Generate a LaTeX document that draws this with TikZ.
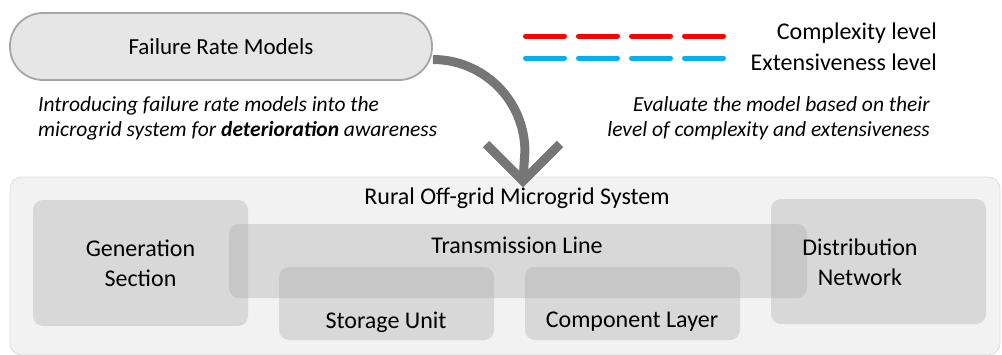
\documentclass[tikz,border=0pt]{standalone}
\usepackage{fontspec}
\setmainfont{Carlito}
\usetikzlibrary{arrows.meta}
\definecolor{pillfill}{HTML}{E6E6E6}
\definecolor{pillline}{HTML}{A6A6A6}
\definecolor{panelfill}{HTML}{F2F2F2}
\definecolor{panelline}{HTML}{DEDEDE}
\definecolor{blockfill}{HTML}{A6A6A6}
\definecolor{arrowgray}{HTML}{767676}
\definecolor{legred}{HTML}{FF0000}
\definecolor{legblue}{HTML}{00B0F0}
\tikzset{
  pill/.style={draw=pillline, line width=1.8pt, fill=pillfill, rounded corners=33pt,
    minimum width=422pt, minimum height=67pt, inner sep=0pt, font=\fontsize{23}{27}\selectfont},
  panel/.style={draw=panelline, line width=0.8pt, fill=panelfill, rounded corners=12pt,
    minimum width=990pt, minimum height=178pt, inner sep=0pt},
  block/.style={fill=blockfill, fill opacity=0.33, rounded corners=10pt, inner sep=0pt},
  blocktext/.style={font=\fontsize{24}{30}\selectfont, align=center, inner sep=0pt},
  note/.style={font=\fontsize{21.5}{25}\selectfont\itshape, inner sep=0pt},
  legtext/.style={font=\fontsize{24}{28}\selectfont, inner sep=0pt, anchor=east},
  legline/.style={line width=5pt, line cap=round, dash pattern=on 39pt off 14pt},
  bigarrow/.style={draw=arrowgray, line width=9pt},
}
\begin{document}
\begin{tikzpicture}[x=1pt, y=-1pt]
\useasboundingbox (0,0) rectangle (1002,354);

% top: failure rate models
\node[pill] (frm) at (221,46.5) {Failure Rate Models};

% legend
\coordinate (ca) at (525.5,36);
\coordinate (cb) at (723.5,36);
\coordinate (ea) at (525.5,58);
\coordinate (eb) at (723.5,58);
\draw[legline, legred] (ca) -- (cb);
\draw[legline, legblue] (ea) -- (eb);
\node[legtext] (lc) at (937,33) {Complexity level};
\node[legtext] (le) at (937,62) {Extensiveness level};

% notes
\node[note, anchor=west, align=left] (nl) at (38,118)
  {Introducing failure rate models into the\\ microgrid system for \textbf{deterioration} awareness};
\node[note, anchor=east, align=right] (nr) at (930,118)
  {Evaluate the model based on their\\ level of complexity and extensiveness};

% microgrid panel
\node[panel] (sys) at (505,266) {};
\node[blocktext] (systitle) at (517,198) {Rural Off-grid Microgrid System};

\node[block, minimum width=578pt, minimum height=74pt] (tl) at (518,261) {};
\node[block, minimum width=215pt, minimum height=126pt] (gen) at (140.5,263) {};
\node[block, minimum width=215pt, minimum height=125pt] (dist) at (878.5,261.5) {};
\node[block, minimum width=215pt, minimum height=73pt] (stor) at (386.5,303.5) {};
\node[block, minimum width=215pt, minimum height=73pt] (comp) at (632.5,303.5) {};

\node[blocktext] (gent) at (gen) {Generation\\Section};
\node[blocktext] (distt) at (860,262) {Distribution\\Network};
\node[blocktext] (tlt) at (517,245) {Transmission Line};
\node[blocktext] (stort) at (386,322) {Storage Unit};
\node[blocktext] (compt) at (632,322) {Component Layer};

% curved arrow from the model box down into the panel
\coordinate (astart) at ([yshift=-13pt]frm.east);
\coordinate (atip) at (523,181);
\draw[bigarrow] (astart) arc[start angle=-90, end angle=0, radius=92] -- (atip);
\draw[bigarrow, line join=miter] ([xshift=-37pt, yshift=37pt]atip) -- (atip) -- ([xshift=37pt, yshift=37pt]atip);
\end{tikzpicture}
\end{document}
